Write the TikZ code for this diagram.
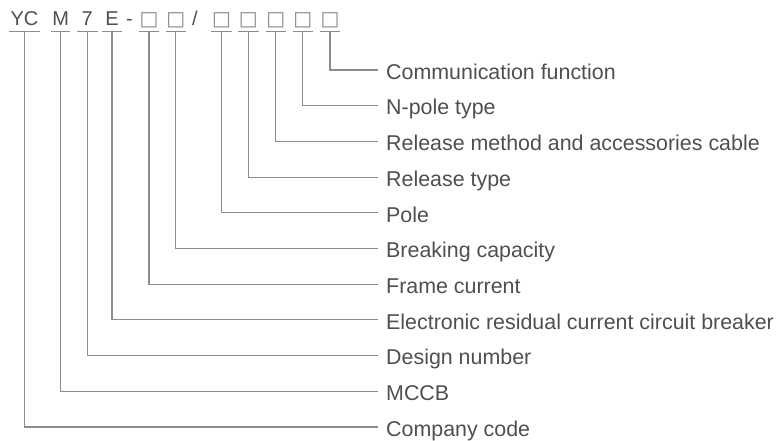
\documentclass[tikz,border=0pt]{standalone}
\usepackage{fontspec}
\setmainfont{Liberation Sans}
\newfontfamily\symfont{DejaVu Sans}
\definecolor{txt}{HTML}{4F4F4F}
\definecolor{ln}{HTML}{8C8C8C}
\definecolor{boxc}{HTML}{8A8A8A}
\begin{document}
\begin{tikzpicture}[x=1pt,y=-1pt,
  code/.style={anchor=base, inner sep=0pt, text depth=5pt, minimum width=20pt,
    font=\fontsize{20}{22}\selectfont, text=txt},
  sq/.style={code, font=\symfont\fontsize{20}{22}\selectfont, text=boxc},
  sepchar/.style={anchor=base, inner sep=0pt, font=\fontsize{20}{22}\selectfont, text=txt},
  lab/.style={anchor=west, inner xsep=8pt, inner ysep=0pt, text height=18.5pt,
    text depth=0pt, font=\fontsize{21.4}{25}\selectfont, text=txt},
  under/.style={draw=ln, line width=1.1pt},
  link/.style={draw=ln, line width=1.1pt}]
\useasboundingbox (0,0) rectangle (781,441);

% code row
\node[code, minimum width=30pt] (c1) at (24.5,26) {YC};
\node[code, minimum width=19pt] (c2) at (60.7,26) {M};
\node[code] (c3) at (87.3,26) {7};
\node[code] (c4) at (112,26) {E};
\node[sepchar] (d1) at (129.5,26) {-};
\node[sq] (c5) at (149,26) {□};
\node[sq] (c6) at (175.7,26) {□};
\node[sepchar] (d2) at (195,26) {/};
\node[sq] (c7) at (221.5,26) {□};
\node[sq] (c8) at (248.3,26) {□};
\node[sq] (c9) at (275.7,26) {□};
\node[sq] (c10) at (302.7,26) {□};
\node[sq] (c11) at (330,26) {□};

% labels
\node[lab] (l11) at (378,70) {Communication function};
\node[lab] (l10) at (378,105.7) {N-pole type};
\node[lab] (l9) at (378,141.4) {Release method and accessories cable};
\node[lab] (l8) at (378,177.1) {Release type};
\node[lab] (l7) at (378,212.8) {Pole};
\node[lab] (l6) at (378,248.5) {Breaking capacity};
\node[lab] (l5) at (378,284.2) {Frame current};
\node[lab] (l4) at (378,319.9) {Electronic residual current circuit breaker};
\node[lab] (l3) at (378,355.6) {Design number};
\node[lab] (l2) at (378,391.3) {MCCB};
\node[lab] (l1) at (378,427) {Company code};

\foreach \i in {1,...,11}{
  \draw[under] (c\i.south west) -- (c\i.south east);
  \draw[link] (c\i.south) |- (l\i.west);
}
\end{tikzpicture}
\end{document}
